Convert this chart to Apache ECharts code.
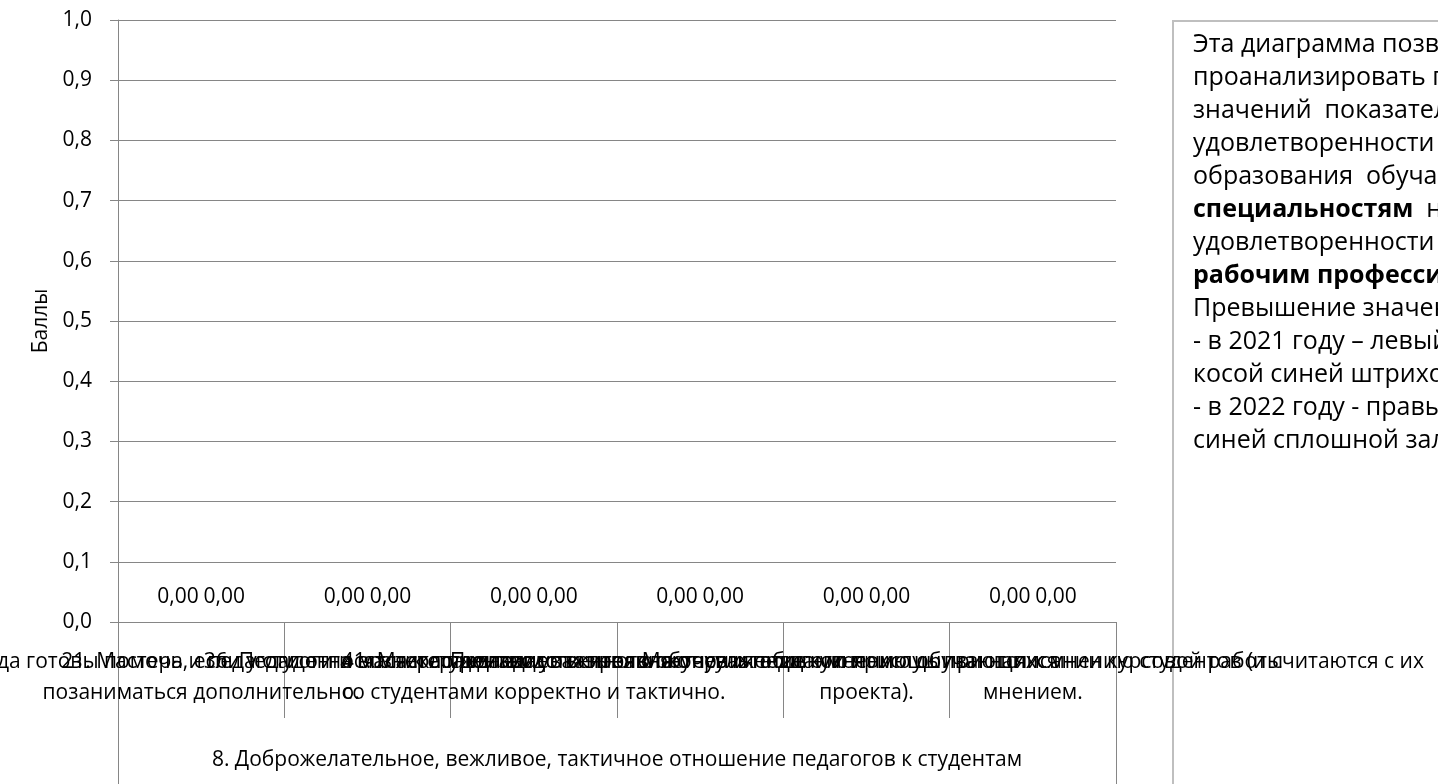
<!DOCTYPE html>
<html>
<head>
<meta charset="utf-8">
<script src="https://cdn.jsdelivr.net/npm/echarts@6/dist/echarts.min.js"></script>
<style>
html,body{margin:0;padding:0;background:#fff;}
#chart{width:1438px;height:784px;}
</style>
</head>
<body>
<div id="chart"></div>
<script>
// ---- data ----
const categories = [
  'Педагоги всегда готовы помочь, если у студента возникло желание\nпозаниматься дополнительно.',
  '21. Мастера и педагоги относятся к студентам уважительно',
  '36. Педагоги и мастера производственного обучения общаются\nсо студентами корректно и тактично.',
  '41. Мастера и педагоги проявляют уважение к мнению обучающихся',
  'Педагоги оказывают консультативную помощь при написании курсовой работы\nпроекта).',
  'Мастера и педагоги прислушиваются к мнению студентов (и считаются с их\nмнением.'
];
const groupLabels = ['8. Доброжелательное, вежливое, тактичное отношение педагогов к студентам'];
const values2021 = [0, 0, 0, 0, 0, 0];
const values2022 = [0, 0, 0, 0, 0, 0];
const yMin = 0, yMax = 1, yStep = 0.1;
const yAxisTitle = 'Баллы';
const noteLines = [
  'Эта диаграмма позволяет',
  'проанализировать превышение',
  'значений  показателей',
  'удовлетворенности  качеством',
  'образования  обучающихся  по',
  '{b|специальностям}  над  показателями',
  'удовлетворенности  обучающихся  по',
  '{b|рабочим профессиям}.',
  'Превышение значений показано:',
  '- в 2021 году – левый столбец с',
  'косой синей штриховкой;',
  '- в 2022 году - правый столбец с',
  'синей сплошной заливкой.'
];

// ---- chart ----
const FONT = '"Open Sans", sans-serif';
const GRAY = '#868686';
const TXT = '#000';
const fmt2 = v => v.toFixed(2).replace('.', ',');

const chart = echarts.init(document.getElementById('chart'), null, {renderer: 'canvas'});
const option = {
  animation: false,
  backgroundColor: '#fff',
  textStyle: {fontFamily: FONT},
  grid: {left: 118, right: 322, top: 20, bottom: 162, containLabel: false, outerBoundsMode: 'none'},
  xAxis: [
    {
      type: 'category',
      position: 'bottom',
      data: categories,
      z: 5,
      axisLine: {show: true, lineStyle: {color: GRAY, width: 1}},
      axisTick: {show: true, interval: 0, length: 96, lineStyle: {color: GRAY}},
      axisLabel: {
        interval: 0, hideOverlap: false, margin: 25, fontSize: 21, lineHeight: 31,
        color: TXT, fontFamily: FONT, align: 'center'
      },
      splitLine: {show: false}
    },
    {
      type: 'category',
      position: 'bottom',
      data: groupLabels,
      z: 5,
      axisLine: {show: false},
      axisTick: {show: true, interval: 0, length: 162, lineStyle: {color: GRAY}},
      axisLabel: {interval: 0, hideOverlap: false, margin: 124, fontSize: 21, lineHeight: 28, color: TXT, fontFamily: FONT},
      splitLine: {show: false}
    }
  ],
  yAxis: {
    type: 'value',
    min: yMin, max: yMax, interval: yStep,
    name: yAxisTitle,
    nameLocation: 'middle',
    nameGap: 62,
    nameRotate: 90,
    nameTextStyle: {fontSize: 21, color: TXT, fontFamily: FONT},
    axisLine: {show: true, lineStyle: {color: GRAY}},
    axisTick: {show: true, length: 8, lineStyle: {color: GRAY}},
    axisLabel: {margin: 26, fontSize: 21, color: TXT, fontFamily: FONT,
      formatter: v => v.toFixed(1).replace('.', ',')},
    splitLine: {show: true, lineStyle: {color: GRAY, width: 1}}
  },
  series: [
    {
      name: '2021', type: 'bar', xAxisIndex: 0, data: values2021,
      barWidth: 44, barGap: '5%',
      itemStyle: {color: '#4472C4'},
      label: {show: true, position: 'top', distance: 14, fontSize: 21, color: TXT, fontFamily: FONT,
        formatter: p => fmt2(p.value)}
    },
    {
      name: '2022', type: 'bar', xAxisIndex: 0, data: values2022,
      barWidth: 44,
      itemStyle: {color: '#1F3F99'},
      label: {show: true, position: 'top', distance: 14, fontSize: 21, color: TXT, fontFamily: FONT,
        formatter: p => fmt2(p.value)}
    }
  ],
  graphic: [
    {
      type: 'rect', left: 1172, top: 20, z: -10,
      shape: {width: 320, height: 800},
      style: {fill: '#fff', stroke: '#bfbfbf', lineWidth: 2}
    },
    {
      type: 'text', left: 1193, top: 28, z: -9,
      style: {
        text: noteLines.join('\n'),
        fontSize: 25, fontFamily: FONT, fill: '#000', lineHeight: 33,
        rich: {b: {fontSize: 25, fontFamily: FONT, fontWeight: 'bold', fill: '#000', lineHeight: 33}}
      }
    }
  ]
};
chart.setOption(option);
</script>
</body>
</html>
